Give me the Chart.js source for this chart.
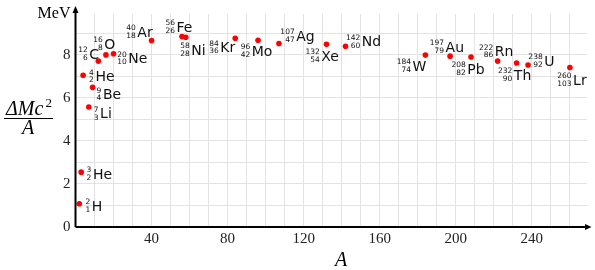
<!DOCTYPE html>
<html>
<head>
<meta charset="utf-8">
<script src="https://cdn.jsdelivr.net/npm/chart.js@4.4.1/dist/chart.umd.min.js"></script>
<style>
  html, body { margin: 0; padding: 0; background: #fff; }
  #wrap { width: 595px; height: 270px; }
</style>
</head>
<body>
<div id="wrap"><canvas id="chartBinding" width="595" height="270"></canvas></div>
<script>
// nuclides: mass number A, atomic number Z, symbol, binding energy per nucleon (MeV)
const massNumbers = [2, 3, 4, 7, 9, 12, 16, 20, 40, 56, 58, 84, 96, 107, 132, 142, 184, 197, 208, 222, 232, 238, 260];
const atomicNumbers = [1, 2, 2, 3, 4, 6, 8, 10, 18, 26, 28, 36, 42, 47, 54, 60, 74, 79, 82, 86, 90, 92, 103];
const symbols = ["H", "He", "He", "Li", "Be", "C", "O", "Ne", "Ar", "Fe", "Ni", "Kr", "Mo", "Ag", "Xe", "Nd", "W", "Au", "Pb", "Rn", "Th", "U", "Lr"];
const bindingPerNucleon = [1.08, 2.55, 7.05, 5.58, 6.49, 7.71, 8.0, 8.05, 8.67, 8.85, 8.82, 8.77, 8.68, 8.53, 8.49, 8.4, 7.99, 7.94, 7.9, 7.71, 7.62, 7.53, 7.41];

const xTickLabels = [40, 80, 120, 160, 200, 240];
const yTickLabels = [0, 2, 4, 6, 8];

// label placement next to each point, px: [dx to left of number block, dy to symbol centre]
const labelOffsets = [
  [6.3, 2], [5.4, 1.7], [6, 0.7], [5, 6.4], [4, 6.7], [-20, -7.3], [-12.6, -11], [3.6, 4.3],
  [-25.3, -9], [-16.6, -9.6], [-5.6, 12.7], [-26, 8.7], [-17.4, 10.7], [1.4, -7.6], [-21, 11.4],
  [0.4, -5], [-28.6, 10.7], [-20.3, -9.6], [-19.6, 11.7], [-18.6, -10], [-18.6, 11.4], [0.3, -4], [-12.6, 12]
];

const serif = "'Liberation Serif', 'Times New Roman', serif";
const sans = "'DejaVu Sans', Verdana, sans-serif";

const points = massNumbers.map((a, i) => ({ x: a, y: bindingPerNucleon[i] }));

const decorPlugin = {
  id: "decor",
  afterDraw(chart) {
    const ctx = chart.ctx;
    const area = chart.chartArea;
    const xs = chart.scales.x;
    const ys = chart.scales.y;
    const ox = xs.getPixelForValue(0);
    const oy = ys.getPixelForValue(0);

    ctx.save();
    // axes with arrows
    ctx.strokeStyle = "#000";
    ctx.fillStyle = "#000";
    ctx.lineWidth = 2;
    ctx.beginPath();
    ctx.moveTo(ox, oy);
    ctx.lineTo(586, oy);
    ctx.moveTo(ox, oy);
    ctx.lineTo(ox, 12);
    ctx.stroke();
    ctx.beginPath();
    ctx.moveTo(591.5, oy);
    ctx.lineTo(585, oy - 3);
    ctx.lineTo(585, oy + 3);
    ctx.closePath();
    ctx.fill();
    ctx.beginPath();
    ctx.moveTo(ox, 6);
    ctx.lineTo(ox - 3, 13);
    ctx.lineTo(ox + 3, 13);
    ctx.closePath();
    ctx.fill();

    // unit
    ctx.font = "16px " + serif;
    ctx.textAlign = "right";
    ctx.textBaseline = "alphabetic";
    ctx.fillText("MeV", 70.5, 17.5);

    // y title as fraction
    ctx.font = "italic 20px " + serif;
    ctx.textAlign = "left";
    const num = "\u0394Mc";
    const wNum = ctx.measureText(num).width;
    ctx.font = "13px " + serif;
    const wSup = ctx.measureText("2").width;
    const startX = 29 - (wNum + wSup + 2) / 2;
    ctx.font = "italic 20px " + serif;
    ctx.fillText(num, startX, 115);
    ctx.font = "13px " + serif;
    ctx.fillText("2", startX + wNum + 2, 107);
    ctx.lineWidth = 1.2;
    ctx.beginPath();
    ctx.moveTo(4, 118.5);
    ctx.lineTo(53, 118.5);
    ctx.stroke();
    ctx.font = "italic 20px " + serif;
    ctx.textAlign = "center";
    ctx.fillText("A", 28, 133.5);

    // x title
    ctx.font = "italic 20px " + serif;
    ctx.fillText("A", 341, 265.5);

    // nuclide labels
    ctx.fillStyle = "#111";
    massNumbers.forEach((a, i) => {
      const px = xs.getPixelForValue(a);
      const py = ys.getPixelForValue(bindingPerNucleon[i]);
      const left = px + labelOffsets[i][0];
      const cy = py + labelOffsets[i][1];
      ctx.font = "7.5px " + sans;
      const wm = ctx.measureText(String(a)).width;
      const wz = ctx.measureText(String(atomicNumbers[i])).width;
      const bw = Math.max(wm, wz);
      ctx.textAlign = "right";
      ctx.fillText(String(a), left + bw, cy - 1.5);
      ctx.fillText(String(atomicNumbers[i]), left + bw, cy + 6.3);
      ctx.font = "14px " + sans;
      ctx.textAlign = "left";
      ctx.fillText(symbols[i], left + bw + 1.5, cy + 5.1);
    });
    ctx.restore();
  }
};

const config = {
  type: "scatter",
  data: {
    datasets: [{
      label: "binding energy",
      data: points,
      backgroundColor: "#ff0000",
      borderWidth: 0,
      pointRadius: 2.8,
      pointHoverRadius: 2.8
    }]
  },
  options: {
    responsive: false,
    animation: false,
    devicePixelRatio: 1,
    layout: { padding: { left: 0, top: 9, right: 8, bottom: 0 } },
    plugins: { legend: { display: false }, tooltip: { enabled: false } },
    scales: {
      x: {
        type: "linear",
        min: 0,
        max: 269,
        afterFit: (s) => { s.height = 43; },
        border: { display: false },
        grid: {
          drawTicks: false,
          color: (c) => (c.tick && c.tick.value === 0 ? "rgba(0,0,0,0)" : "#e3e3e3"),
          lineWidth: 1
        },
        ticks: {
          stepSize: 10,
          autoSkip: false,
          includeBounds: false,
          maxRotation: 0,
          padding: 3,
          color: "#222",
          font: { family: serif, size: 15 },
          callback: (v) => (xTickLabels.includes(v) ? String(v) : "")
        }
      },
      y: {
        min: 0,
        max: 9.9,
        afterFit: (s) => { s.width = 75.5; },
        border: { display: false },
        grid: {
          drawTicks: false,
          color: (c) => (c.tick && c.tick.value === 0 ? "rgba(0,0,0,0)" : "#e3e3e3"),
          lineWidth: 1
        },
        ticks: {
          stepSize: 1,
          autoSkip: false,
          includeBounds: false,
          padding: 5,
          color: "#222",
          font: { family: serif, size: 15 },
          callback: (v) => (yTickLabels.includes(v) ? String(v) : "")
        }
      }
    }
  },
  plugins: [decorPlugin]
};

new Chart(document.getElementById("chartBinding"), config);
</script>
</body>
</html>
